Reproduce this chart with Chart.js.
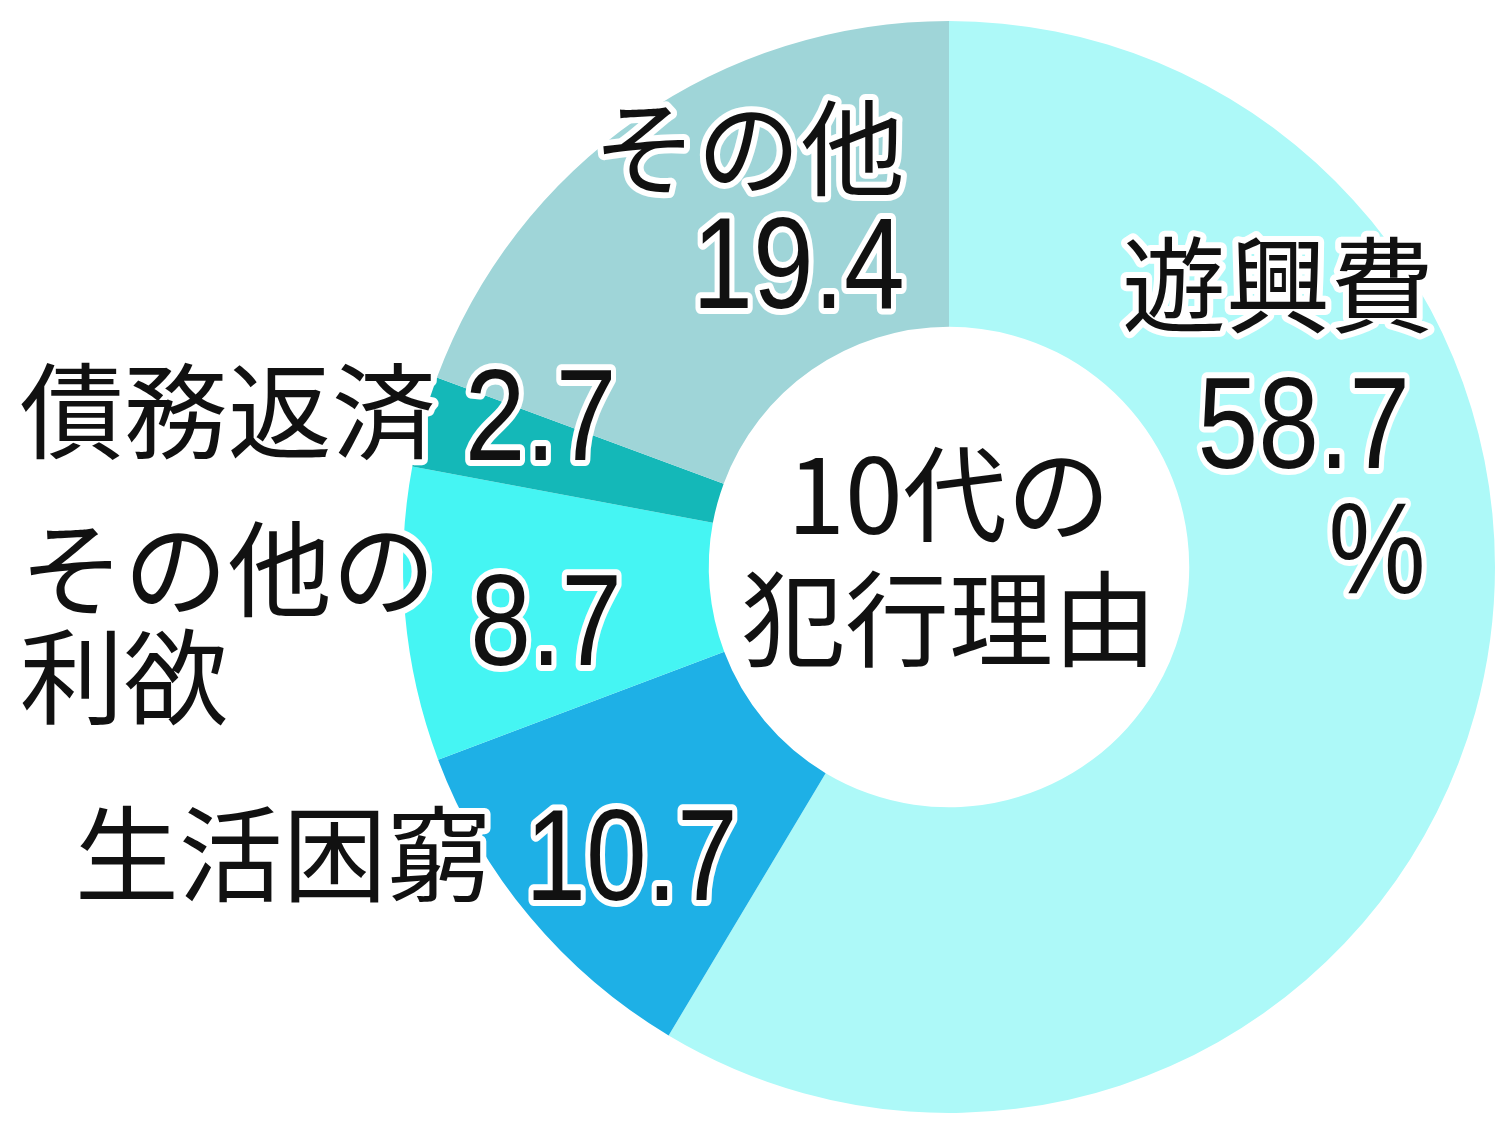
<!DOCTYPE html>
<html>
<head>
<meta charset="utf-8">
<script src="https://cdn.jsdelivr.net/npm/chart.js@4.4.1/dist/chart.umd.min.js"></script>
<style>
  html,body{margin:0;padding:0;background:#fff;}
  #wrap{position:relative;width:1501px;height:1124px;}
</style>
</head>
<body>
<div id="wrap"><canvas id="chart_donut"></canvas></div>
<script>
// ---------- data ----------
const reasons = ['遊興費', '生活困窮', 'その他の利欲', '債務返済', 'その他'];
const shares = [58.7, 10.7, 8.7, 2.7, 19.4];
const nameLines = [['遊興費'], ['生活困窮'], ['その他の', '利欲'], ['債務返済'], ['その他']];
const centerTitle = ['10代の', '犯行理由'];
const sliceColors = ['#adf9f8', '#1eb0e6', '#45f5f3', '#14b8b8', '#9fd5d8'];

// label placement, offsets from the donut centre in units of the outer radius
// n: name lines (x, y of glyph middle), v: value (x, y of baseline), a: align
const LAYOUT = [
  {n: [[0.317, -0.515]], a: 'left', v: [0.455, -0.182], pct: [0.695, 0.047]},
  {n: [[-1.601, 0.527]], a: 'left', v: [-0.776, 0.610]},
  {n: [[-1.702, 0.005], [-1.702, 0.203]], a: 'left', v: [-0.877, 0.179]},
  {n: [[-1.702, -0.284]], a: 'left', v: [-0.887, -0.196]},
  {n: [[-0.081, -0.767]], a: 'right', v: [-0.081, -0.474]}
];

const JP_FONT = 'normal 104px "Noto Sans CJK JP", sans-serif';
const NUM_FONT = 'normal 130px "Liberation Sans", Arial, sans-serif';
const NUM_SQUEEZE = 0.84;

function haloText(ctx, txt, x, y, align, squeeze) {
  ctx.save();
  ctx.translate(x, y);
  ctx.scale(squeeze || 1, 1);
  ctx.textAlign = align;
  ctx.lineJoin = 'round';
  ctx.lineWidth = 12;
  ctx.strokeStyle = '#ffffff';
  ctx.strokeText(txt, 0, 0);
  ctx.fillStyle = '#111111';
  ctx.fillText(txt, 0, 0);
  ctx.restore();
}

const donutLabels = {
  id: 'donutLabels',
  afterDraw(chart) {
    const arc = chart.getDatasetMeta(0).data[0];
    if (!arc) return;
    const cx = arc.x, cy = arc.y, R = arc.outerRadius;
    const ctx = chart.ctx;
    ctx.save();
    LAYOUT.forEach((L, i) => {
      ctx.font = JP_FONT;
      ctx.textBaseline = 'middle';
      nameLines[i].forEach((line, k) => {
        haloText(ctx, line, cx + L.n[k][0] * R, cy + L.n[k][1] * R, L.a);
      });
      ctx.font = NUM_FONT;
      ctx.textBaseline = 'alphabetic';
      const vx = cx + L.v[0] * R, vy = cy + L.v[1] * R;
      haloText(ctx, shares[i].toFixed(1), vx, vy, L.a, NUM_SQUEEZE);
      if (L.pct) haloText(ctx, '%', cx + L.pct[0] * R, cy + L.pct[1] * R, 'left', NUM_SQUEEZE);
    });
    // centre title
    ctx.font = JP_FONT;
    ctx.textBaseline = 'middle';
    haloText(ctx, centerTitle[0], cx, cy - 0.132 * R, 'center');
    haloText(ctx, centerTitle[1], cx, cy + 0.097 * R, 'center');
    ctx.restore();
  }
};

const ctx = document.getElementById('chart_donut').getContext('2d');
new Chart(ctx, {
  type: 'doughnut',
  data: {
    labels: reasons,
    datasets: [{data: shares, backgroundColor: sliceColors, borderWidth: 0, hoverOffset: 0}]
  },
  options: {
    responsive: true, maintainAspectRatio: false, animation: false,
    cutout: '44%',
    layout: {padding: {left: 403, right: 6, top: 21, bottom: 11}},
    plugins: {legend: {display: false}, tooltip: {enabled: false}}
  },
  plugins: [donutLabels]
});
</script>
</body>
</html>
